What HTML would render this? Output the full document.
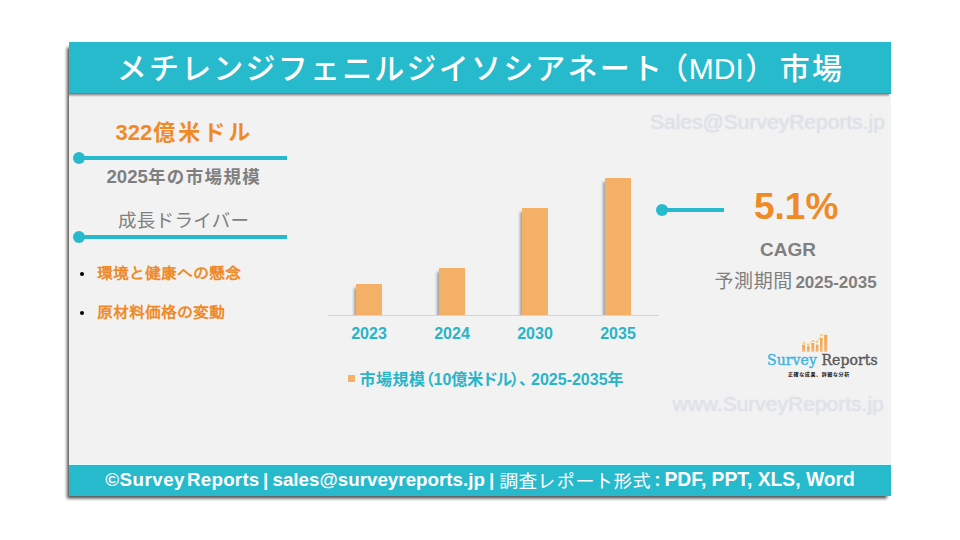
<!DOCTYPE html>
<html lang="ja">
<head>
<meta charset="utf-8">
<title>メチレンジフェニルジイソシアネート（MDI）市場</title>
<style>
  html, body { margin: 0; padding: 0; }
  body {
    width: 960px; height: 540px; overflow: hidden; position: relative;
    background: #ffffff;
    font-family: "Liberation Sans", "Noto Sans CJK JP", sans-serif;
  }
  .abs { position: absolute; white-space: nowrap; line-height: 1; }
  .panel { position: absolute; left: 69px; top: 42px; width: 822px; height: 454px; background: #f2f2f2;
           box-shadow: -3px 3.5px 3px -1px rgba(0,0,0,0.68); }
  .header { position: absolute; left: 69px; top: 42px; width: 822px; height: 52px; background: #27b9cc; box-shadow: inset 0 -1px 0 rgba(90,90,90,0.3); }
  .hshadow { position: absolute; left: 69px; top: 94px; width: 820px; height: 3px; background: linear-gradient(rgba(60,40,60,0.5), rgba(60,40,60,0)); }
  .footer { position: absolute; left: 69px; top: 463px; width: 822px; height: 33px; background: #27b9cc;
            border-top: 2px solid #dcfbfe; box-sizing: border-box; }
  .title { left: 69px; width: 822px; top: 54px; text-align: center; color: #fff; font-size: 30px; letter-spacing: 2.2px; font-weight: 500; padding-left: 1px; box-sizing: border-box; }
  .title .lat { font-size: 30px; letter-spacing: 0; font-weight: 400; }
  .foot { left: 105.3px; top: 470.3px; color: #fff; font-size: 18.9px; font-weight: bold; }
  .foot .jp { font-weight: normal; font-size: 19px; font-family: 'Liberation Sans','IPAGothic',sans-serif; position: relative; top: 1.7px; }
  .hline { position: absolute; height: 4px; background: #27b9cc; }
  .dot { position: absolute; width: 12px; height: 12px; border-radius: 50%; background: #27b9cc; }
  .orange { color: #ef8a26; }
  .gray { color: #7f7f7f; }
  .bar { position: absolute; background: #f5b068; box-shadow: -3px 3px 2.5px -1px rgba(40,40,60,0.42); clip-path: inset(-5px 0px 0px -6px); }
  .yr { color: #2ab4c8; font-weight: bold; font-size: 16px; width: 60px; text-align: center; top: 326px; }
  .wm { color: #dde2e8; font-size: 21px; text-shadow: 0 0 1.5px rgba(215,222,230,0.9); }
</style>
</head>
<body>
  <div class="panel"></div>
  <div class="header"></div>
  <div class="hshadow"></div>
  <div class="footer"></div>

  <div class="abs title">メチレンジフェニルジイソシアネート<span style="margin-left:-6px">（</span><span class="lat" style="margin-left:-1.5px">MDI</span><span style="margin-left:1.3px; margin-right:2.5px">）</span>市場</div>

  <!-- left column -->
  <div class="abs orange" id="big" style="left:115.5px; top:122px; font-size:22px; font-weight:bold;">322<span style="letter-spacing:3px; margin-left:1px;">億米ドル</span></div>
  <div class="hline" style="left:79px; top:156px; width:208px;"></div>
  <div class="dot" style="left:73px; top:152px;"></div>
  <div class="abs gray" id="sub1" style="left:106.5px; top:167.5px; font-size:17.5px; font-weight:bold;"><span style="font-size:18.6px;">2025</span><span style="letter-spacing:1.4px;">年の市場規模</span></div>
  <div class="abs gray" id="sub2" style="left:118px; top:212px; font-size:18.5px; letter-spacing:0.3px;">成長ドライバー</div>
  <div class="hline" style="left:79px; top:235px; width:208px;"></div>
  <div class="dot" style="left:73px; top:231px;"></div>

  <div class="abs" style="left:80px; top:272px; width:4px; height:4px; border-radius:50%; background:#000;"></div>
  <div class="abs orange" id="b1" style="left:97px; top:266px; font-size:16px; font-weight:bold; font-family:'Liberation Sans','IPAGothic',sans-serif;">環境と健康への懸念</div>
  <div class="abs" style="left:80px; top:311px; width:4px; height:4px; border-radius:50%; background:#000;"></div>
  <div class="abs orange" id="b2" style="left:97px; top:305px; font-size:16px; font-weight:bold; font-family:'Liberation Sans','IPAGothic',sans-serif;">原材料価格の変動</div>

  <!-- chart -->
  <div class="abs" style="left:328px; top:315px; width:331px; height:1px; background:#d4d4d4;"></div>
  <div class="bar" style="left:356px; top:284px; width:26px; height:31px;"></div>
  <div class="bar" style="left:439px; top:268px; width:26px; height:47px;"></div>
  <div class="bar" style="left:522px; top:208px; width:26px; height:107px;"></div>
  <div class="bar" style="left:605px; top:178px; width:26px; height:137px;"></div>
  <div class="abs yr" style="left:339px;">2023</div>
  <div class="abs yr" style="left:422px;">2024</div>
  <div class="abs yr" style="left:505px;">2030</div>
  <div class="abs yr" style="left:588px;">2035</div>
  <div class="abs" style="left:348px; top:375px; width:7px; height:7px; background:#f5b06a;"></div>
  <div class="abs" id="legend" style="left:359.5px; top:371.5px; font-size:16px; font-weight:bold; color:#2ab4c8; font-feature-settings:'palt';"><span style="letter-spacing:0.5px;">市場規模</span>（10億米<span style="letter-spacing:-1px;">ドル</span>）、<span style="margin-left:4px;">2025-2035</span>年</div>

  <!-- right column -->
  <div class="abs wm" id="wm1" style="left:650px; top:111px;">Sales@SurveyReports.jp</div>
  <div class="hline" style="left:661px; top:208px; width:62.6px; height:4px;"></div>
  <div class="dot" style="left:656px; top:204px;"></div>
  <div class="abs orange" id="cagrnum" style="left:754px; top:187.7px; font-size:37px; font-weight:bold;">5.1%</div>
  <div class="abs gray" id="cagr" style="left:760px; top:240px; font-size:19px; font-weight:bold;">CAGR</div>
  <div class="abs gray" id="period" style="left:714.5px; top:272px; font-size:19px;"><span style="letter-spacing:0.6px;">予測期間</span> <span style="font-weight:bold; font-size:17px; margin-left:-2.8px;">2025-2035</span></div>

  <!-- logo -->
  <svg class="abs" style="left:795px; top:328px;" width="40" height="30" viewBox="0 0 40 30">
    <defs>
      <linearGradient id="og" x1="0" y1="0" x2="0" y2="1">
        <stop offset="0" stop-color="#f1a24a"/><stop offset="1" stop-color="#f4b872"/>
      </linearGradient>
    </defs>
    <rect x="7.2" y="16.7" width="2.8" height="7" fill="url(#og)"/>
    <rect x="11.9" y="18.3" width="2.8" height="5.4" fill="url(#og)"/>
    <rect x="16.4" y="15" width="2.8" height="8.7" fill="url(#og)"/>
    <rect x="20.8" y="16.7" width="2.6" height="7" fill="url(#og)"/>
    <rect x="25" y="10" width="2.6" height="13.7" fill="url(#og)"/>
    <rect x="29.2" y="7" width="3" height="16.7" fill="url(#og)"/>
    <polyline points="8.6,14.7 13.3,16.7 17.8,13 21.9,13.9 26.1,7 30.5,6.7" fill="none" stroke="#f6cf6a" stroke-width="0.65"/>
    <circle cx="8.6" cy="14.7" r="1.05" fill="#f5c858"/>
    <circle cx="13.3" cy="16.7" r="1.05" fill="#f5c858"/>
    <circle cx="17.8" cy="13" r="1.05" fill="#f5c858"/>
    <circle cx="21.9" cy="13.9" r="1.05" fill="#f5c858"/>
    <circle cx="26.1" cy="7" r="1.05" fill="#f5c858"/>
  </svg>
  <div class="abs" id="logo" style="left:767px; top:353px; -webkit-text-stroke:0.4px; font-family:'DejaVu Serif', serif; font-size:14px; word-spacing:0px; letter-spacing:0.08px;"><span style="color:#3db4e2;">Survey</span> <span style="color:#595959;">Reports</span></div>
  <div class="abs" id="tag" style="left:788px; top:371.6px; font-size:5px; letter-spacing:0.62px; font-weight:bold; color:#111;">正確な成果、詳細な分析</div>

  <div class="abs wm" id="wm2" style="left:672.5px; top:393px; font-size:21px; color:#dfe3e9;">www.SurveyReports.jp</div>

  <div class="abs foot" id="foot"><span id="fA" style="font-size:18.73px;"><span style="letter-spacing:0.5px;">©Survey</span> <span style="letter-spacing:0.25px; margin-left:-3.2px;">Reports</span> <span style="margin-left:-1.75px;">|</span> <span style="margin-left:-1px; letter-spacing:0.035px;">sales@surveyreports.jp</span></span><span id="fB" style="margin-left:4px;">|</span><span class="jp" id="fC" style="margin-left:5px;">調査レポート形式</span><span id="fD" style="margin-left:3px;">:</span><span id="fE" style="font-size:19.3px; margin-left:3.9px;">PDF, PPT, XLS, Word</span></div>
</body>
</html>
